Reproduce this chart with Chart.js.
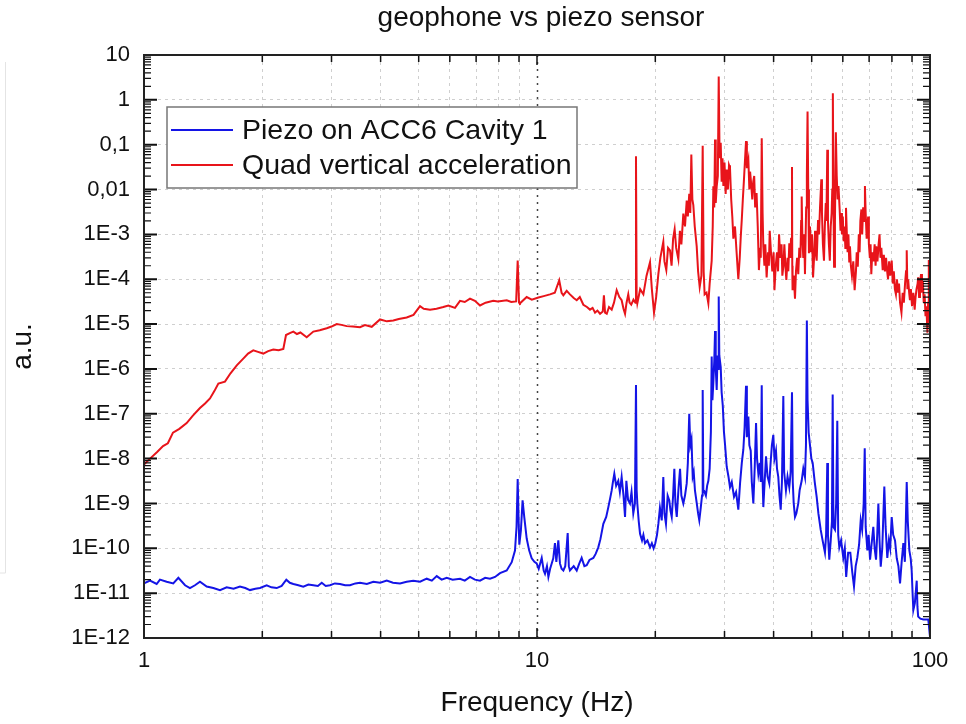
<!DOCTYPE html>
<html>
<head>
<meta charset="utf-8">
<title>geophone vs piezo sensor</title>
<script src="https://cdn.jsdelivr.net/npm/chart.js@4.4.1/dist/chart.umd.min.js"></script>
<style>
  html, body { margin: 0; padding: 0; background: #fff; }
  #chart { display: block; }
</style>
</head>
<body>
<canvas id="chart" width="966" height="724"></canvas>
<script>
/* --------------- data: [Hz, a.u.] --------------------------------------- */
const seriesNames = ["Piezo on ACC6 Cavity 1", "Quad vertical acceleration"];
const seriesColors = ["#1414e6", "#e8141a"];

// Piezo on ACC6 Cavity 1 (blue)
const blueData = [
  [1.0,1.65e-11],[1.036,1.9e-11],[1.077,1.6e-11],[1.098,2.0e-11],[1.142,1.8e-11],[1.187,1.65e-11],[1.223,2.2e-11],[1.272,1.5e-11],
  [1.309,1.3e-11],[1.348,1.5e-11],[1.388,1.8e-11],[1.444,1.4e-11],[1.501,1.3e-11],[1.561,1.17e-11],[1.623,1.35e-11],[1.69,1.25e-11],
  [1.755,1.4e-11],[1.81,1.3e-11],[1.861,1.17e-11],[1.92,1.25e-11],[1.973,1.3e-11],[2.052,1.5e-11],[2.11,1.35e-11],[2.176,1.3e-11],
  [2.24,1.45e-11],[2.302,2.0e-11],[2.35,1.7e-11],[2.399,1.6e-11],[2.47,1.5e-11],[2.543,1.4e-11],[2.62,1.55e-11],[2.697,1.5e-11],
  [2.77,1.45e-11],[2.833,1.7e-11],[2.9,1.45e-11],[2.974,1.5e-11],[3.06,1.65e-11],[3.153,1.6e-11],[3.25,1.5e-11],[3.344,1.5e-11],
  [3.45,1.65e-11],[3.545,1.7e-11],[3.69,1.6e-11],[3.833,1.8e-11],[3.99,1.7e-11],[4.146,1.9e-11],[4.3,1.7e-11],[4.481,1.65e-11],
  [4.66,1.8e-11],[4.844,1.9e-11],[5.04,1.8e-11],[5.241,2.1e-11],[5.4,1.9e-11],[5.557,2.4e-11],[5.72,2.0e-11],[5.892,2.2e-11],
  [6.1,2.0e-11],[6.37,2.1e-11],[6.55,1.9e-11],[6.753,2.3e-11],[6.95,2.0e-11],[7.161,1.9e-11],[7.38,2.2e-11],[7.593,2.1e-11],
  [7.82,2.3e-11],[8.052,2.8e-11],[8.374,3.2e-11],[8.623,4.9e-11],[8.79,8.9e-11],[8.87,3.0e-10],[8.93,3.5e-9],[8.98,4.0e-10],
  [9.016,1.2e-10],[9.1,2.5e-10],[9.19,1.17e-9],[9.28,5.0e-10],[9.414,1.65e-10],[9.55,9.0e-11],[9.694,6.0e-11],[9.85,5.0e-11],
  [9.98,4.6e-11],[10.1,3.5e-11],[10.28,6.1e-11],[10.4,3.2e-11],[10.48,2.7e-11],[10.6,4.0e-11],[10.69,2.3e-11],[10.8,3.5e-11],
  [10.9,4.6e-11],[11.0,6.0e-11],[11.11,1.3e-10],[11.2,5.0e-11],[11.33,1.5e-10],[11.44,4.6e-11],[11.55,3.5e-11],[11.67,3.2e-11],
  [11.8,4.0e-11],[11.97,2.2e-10],[12.05,4.0e-11],[12.13,3.2e-11],[12.4,4.0e-11],[12.62,3.2e-11],[12.8,4.5e-11],[12.99,6.1e-11],
  [13.2,4.0e-11],[13.38,4.2e-11],[13.6,5.5e-11],[13.91,6.1e-11],[14.1,7.5e-11],[14.32,1.05e-10],[14.5,1.6e-10],[14.75,3.5e-10],
  [15.0,5.0e-10],[15.19,8.3e-10],[15.35,1.3e-9],[15.49,1.95e-9],[15.6,3.0e-9],[15.73,4.6e-9],[15.9,2.5e-9],[16.1,3.2e-9],
  [16.25,1.8e-9],[16.42,3.9e-9],[16.6,1.5e-9],[16.75,5.0e-10],[16.88,3.2e-9],[17.05,1.2e-9],[17.24,1.0e-9],[17.4,1.8e-9],
  [17.58,6.0e-10],[17.75,1.0e-9],[17.86,4.4e-7],[17.93,2.0e-9],[18.0,1.0e-9],[18.15,4.0e-10],[18.29,2.1e-10],[18.5,1.5e-10],
  [18.65,2.0e-10],[18.83,1.3e-10],[19.1,1.5e-10],[19.39,1.05e-10],[19.6,1.3e-10],[19.8,1.0e-10],[20.0,1.3e-10],[20.2,2.0e-10],
  [20.36,3.5e-10],[20.55,8.0e-10],[20.77,4.2e-10],[20.96,3.9e-9],[21.1,6.0e-10],[21.29,3.5e-10],[21.5,1.5e-9],[21.71,1.17e-9],
  [21.85,7.0e-10],[22.02,5.0e-10],[22.2,1.5e-9],[22.36,5.9e-9],[22.5,1.0e-9],[22.68,5.0e-10],[22.9,2.0e-9],[23.12,5.9e-9],
  [23.3,1.5e-9],[23.57,1.0e-9],[23.8,1.5e-9],[24.04,2.8e-9],[24.2,8.0e-9],[24.4,1.0e-7],[24.55,2.0e-8],[24.72,2.7e-8],
  [24.9,4.0e-9],[25.05,5.0e-9],[25.23,1.95e-9],[25.5,1.0e-9],[25.7,6.0e-10],[25.88,4.2e-10],[26.1,8.0e-10],[26.3,1.5e-9],
  [26.4,3.4e-7],[26.5,2.0e-9],[26.6,1.95e-9],[26.9,1.5e-9],[27.1,2.5e-9],[27.29,3.2e-9],[27.5,6.0e-9],[27.7,4.0e-8],
  [27.83,1.9e-6],[27.95,2.0e-7],[28.1,5.0e-7],[28.25,1.5e-6],[28.38,7.0e-6],[28.5,1.0e-6],[28.66,3.4e-7],[28.8,2.0e-6],
  [28.9,1.0e-6],[29.0,4.1e-5],[29.1,2.0e-6],[29.34,1.1e-6],[29.5,3.0e-7],[29.7,1.5e-7],[29.9,4.0e-8],[30.1,2.0e-8],
  [30.39,6.6e-9],[30.7,4.0e-9],[30.98,2.3e-9],[31.3,3.0e-9],[31.72,1.4e-9],[32.1,1.8e-9],[32.53,7.3e-10],[32.86,2.8e-9],
  [33.2,8.0e-9],[33.5,1.6e-8],[33.75,5.0e-8],[34.03,4.2e-7],[34.2,3.0e-8],[34.5,8.7e-8],[34.7,2.0e-8],[34.98,1.5e-8],
  [35.2,3.0e-9],[35.52,1.0e-9],[35.8,6.0e-9],[36.09,6.2e-8],[36.3,1.0e-8],[36.58,4.6e-9],[36.9,8.0e-9],[37.1,3.0e-9],
  [37.31,4.3e-7],[37.45,5.0e-9],[37.66,8.3e-10],[37.95,3.0e-9],[38.26,1.13e-8],[38.6,4.0e-9],[39.0,2.8e-9],[39.3,8.0e-9],
  [39.6,2.0e-8],[39.93,3.4e-8],[40.2,1.0e-8],[40.56,1.5e-8],[40.8,6.0e-9],[41.11,3.9e-9],[41.4,1.5e-9],[41.7,7.3e-10],
  [42.0,3.0e-9],[42.34,2.5e-7],[42.55,5.0e-9],[43.0,1.95e-9],[43.4,4.0e-9],[43.85,2.3e-9],[44.2,5.0e-9],[44.55,3.0e-7],
  [44.75,3.0e-9],[45.0,1.0e-9],[45.34,5.0e-10],[45.7,6.0e-10],[46.22,1.0e-9],[46.6,2.0e-9],[47.15,3.2e-9],[47.6,6.0e-9],
  [48.07,3.9e-9],[48.35,2.0e-8],[48.6,1.2e-5],[48.8,2.0e-7],[49.12,3.8e-8],[49.5,2.0e-8],[49.9,1.0e-8],[50.29,8.0e-9],
  [50.9,3.0e-9],[51.48,1.4e-9],[52.0,6.0e-10],[52.7,2.6e-10],[53.3,1.5e-10],[54.04,8.0e-11],[54.4,2.0e-10],[54.78,8.0e-9],
  [55.0,2.0e-10],[55.43,5.6e-11],[55.9,1.5e-10],[56.3,4.0e-10],[56.54,2.7e-7],[56.8,3.0e-10],[57.31,2.6e-10],[57.7,1.0e-9],
  [58.09,7.0e-8],[58.4,2.0e-10],[58.78,1.05e-10],[59.4,1.5e-10],[60.17,6.1e-11],[60.7,1.0e-10],[61.2,2.3e-11],[61.9,8.0e-11],
  [62.7,8.0e-11],[63.4,3.0e-11],[64.06,1.4e-11],[64.7,4.0e-11],[65.31,6.1e-11],[66.0,1.2e-10],[66.63,4.2e-10],[67.2,2.6e-10],
  [67.8,1.0e-9],[68.22,1.7e-8],[68.6,3.0e-10],[69.28,9.0e-11],[69.8,2.0e-10],[70.38,5.6e-11],[71.0,1.2e-10],[71.74,3.0e-10],
  [72.3,1.0e-10],[72.89,5.6e-11],[73.4,2.0e-10],[73.89,1.0e-9],[74.4,1.5e-10],[74.93,3.9e-11],[75.6,1.0e-10],[76.52,2.4e-9],
  [77.1,3.0e-10],[77.87,6.1e-11],[78.6,1.5e-10],[79.2,1.0e-10],[79.9,5.0e-10],[80.6,2.0e-10],[81.47,1.5e-10],[82.3,6.0e-11],
  [83.1,4.0e-11],[83.9,1.65e-11],[84.7,5.0e-11],[85.54,1.3e-10],[86.3,5.0e-11],[86.8,4.0e-10],[87.25,3.0e-9],[87.8,4.0e-10],
  [88.6,9.0e-11],[89.3,6.0e-11],[89.82,3.2e-11],[90.3,1.0e-11],[90.7,4.2e-12],[91.5,6.0e-12],[92.51,1.9e-11],[92.9,5.0e-12],
  [93.3,3.0e-12],[94.5,2.7e-12],[96.16,2.6e-12],[99.0,2.6e-12],[100,1.07e-12]
];

// Quad vertical acceleration (red)
const redData = [
  [1.0,7.4e-9],[1.036,1.0e-8],[1.08,1.4e-8],[1.118,1.9e-8],[1.15,2.2e-8],[1.185,3.8e-8],[1.23,4.6e-8],[1.284,6.2e-8],
  [1.33,9.0e-8],[1.388,1.34e-7],[1.43,1.7e-7],[1.472,2.2e-7],[1.51,3.2e-7],[1.546,4.7e-7],[1.607,5.2e-7],[1.66,8.0e-7],
  [1.722,1.2e-6],[1.789,1.7e-6],[1.84,2.2e-6],[1.897,2.6e-6],[1.95,2.4e-6],[2.012,2.2e-6],[2.07,2.5e-6],[2.133,2.7e-6],
  [2.2,2.6e-6],[2.262,2.8e-6],[2.298,5.7e-6],[2.35,6.3e-6],[2.399,6.8e-6],[2.45,6.0e-6],[2.5,6.5e-6],[2.594,5.1e-6],
  [2.697,6.8e-6],[2.8,7.3e-6],[2.917,8.1e-6],[3.0,8.8e-6],[3.093,1.0e-5],[3.18,9.6e-6],[3.28,9.0e-6],[3.4,8.8e-6],
  [3.545,8.5e-6],[3.65,9.5e-6],[3.797,8.7e-6],[3.986,1.27e-5],[4.15,1.15e-5],[4.309,1.2e-5],[4.45,1.3e-5],[4.66,1.4e-5],
  [4.85,1.6e-5],[5.039,2.5e-5],[5.15,2.2e-5],[5.343,2.1e-5],[5.55,2.2e-5],[5.776,2.4e-5],[5.95,2.6e-5],[6.185,2.3e-5],
  [6.37,3.3e-5],[6.55,3.1e-5],[6.753,3.7e-5],[6.95,3.3e-5],[7.161,2.6e-5],[7.4,3.0e-5],[7.741,3.3e-5],[7.95,3.2e-5],
  [8.374,3.4e-5],[8.6,3.1e-5],[8.85,3.2e-5],[8.93,2.6e-4],[9.0,3.0e-5],[9.05,2.9e-5],[9.414,4.0e-5],[9.7,3.5e-5],
  [10.08,3.9e-5],[10.4,4.2e-5],[10.79,4.6e-5],[11.1,5.0e-5],[11.39,9.5e-5],[11.55,5.0e-5],[11.67,4.4e-5],[11.9,5.5e-5],
  [12.13,4.6e-5],[12.4,3.8e-5],[12.62,3.4e-5],[12.85,4.0e-5],[13.12,2.7e-5],[13.4,2.4e-5],[13.64,2.1e-5],[13.85,2.3e-5],
  [14.05,1.8e-5],[14.25,2.0e-5],[14.47,1.7e-5],[14.7,1.9e-5],[14.8,4.4e-5],[14.9,1.8e-5],[15.05,1.7e-5],[15.25,2.4e-5],
  [15.49,2.1e-5],[15.7,3.0e-5],[15.95,5.7e-5],[16.2,4.0e-5],[16.42,3.4e-5],[16.6,2.2e-5],[16.75,1.7e-5],[16.9,3.0e-5],
  [17.07,4.6e-5],[17.2,3.0e-5],[17.37,2.7e-5],[17.6,3.5e-5],[17.8,3.0e-5],[17.86,0.055],[17.93,4.0e-5],[18.0,2.9e-5],
  [18.3,6.0e-5],[18.65,4.6e-5],[19.0,1.2e-4],[19.39,2.4e-4],[19.6,6.0e-5],[19.85,1.8e-5],[20.1,4.0e-5],[20.36,1.3e-4],
  [20.6,3.0e-4],[20.96,6.8e-4],[21.1,2.5e-4],[21.33,1.6e-4],[21.55,5.0e-4],[21.8,4.4e-4],[22.0,2.0e-4],[22.2,8.0e-4],
  [22.4,1.3e-3],[22.6,5.0e-4],[22.89,2.8e-4],[23.1,1.2e-3],[23.3,6.0e-4],[23.57,2.9e-3],[23.8,1.5e-3],[24.04,5.7e-3],
  [24.2,2.5e-3],[24.4,8.0e-3],[24.55,3.0e-3],[24.7,0.06],[24.85,6.0e-3],[24.99,4.5e-3],[25.2,1.5e-3],[25.49,5.4e-4],
  [25.7,1.5e-4],[25.94,6.7e-5],[26.2,1.2e-4],[26.4,0.095],[26.55,1.5e-4],[26.7,4.6e-5],[27.0,5.0e-5],[27.29,2.9e-5],
  [27.5,8.0e-5],[27.83,2.6e-4],[28.0,1.5e-3],[28.1,0.0118],[28.25,4.0e-3],[28.38,0.13],[28.5,5.0e-3],[28.66,0.0118],
  [28.85,0.02],[29.0,3.3],[29.15,0.05],[29.34,0.11],[29.5,0.015],[29.65,0.05],[29.8,0.012],[30.0,0.04],
  [30.2,0.008],[30.39,0.028],[30.6,0.01],[30.8,0.035],[30.98,0.03],[31.2,6.0e-3],[31.4,2.5e-3],[31.6,8.0e-4],
  [31.9,1.5e-3],[32.2,4.0e-4],[32.53,1.0e-4],[32.8,3.0e-4],[33.0,9.0e-4],[33.19,2.1e-3],[33.4,6.0e-3],[33.6,0.015],
  [33.8,0.04],[34.03,0.12],[34.2,0.03],[34.5,0.046],[34.7,0.01],[34.85,0.025],[35.06,0.014],[35.3,0.006],
  [35.5,0.015],[35.7,0.02],[35.9,4.0e-3],[36.2,8.4e-3],[36.45,1.5e-3],[36.7,1.6e-4],[36.95,5.0e-4],[37.1,3.0e-4],
  [37.31,0.14],[37.5,3.0e-3],[37.66,5.4e-4],[37.9,2.0e-4],[38.1,6.0e-4],[38.4,1.1e-4],[38.7,4.0e-4],[38.9,2.0e-4],
  [39.1,1.2e-3],[39.4,3.8e-4],[39.7,1.5e-4],[40.0,4.0e-4],[40.2,5.7e-5],[40.5,2.0e-4],[40.8,4.0e-4],[41.05,1.5e-4],
  [41.3,1.0e-3],[41.6,3.0e-4],[41.9,6.0e-4],[42.1,1.2e-4],[42.34,1.9e-4],[42.6,6.0e-4],[42.85,2.0e-4],[43.1,9.7e-5],
  [43.4,3.0e-4],[43.6,1.5e-4],[43.85,6.3e-4],[44.1,3.0e-4],[44.3,8.0e-4],[44.55,0.032],[44.62,2.0e-4],[44.7,5.7e-5],
  [45.0,1.2e-4],[45.34,3.7e-5],[45.6,1.5e-4],[45.9,3.0e-4],[46.22,1.3e-4],[46.5,5.0e-4],[46.8,3.0e-4],[47.0,2.0e-3],
  [47.15,7.0e-3],[47.35,8.0e-4],[47.6,3.0e-4],[47.85,1.0e-3],[48.07,1.3e-4],[48.4,4.0e-3],[48.6,0.02],[48.8,0.55],
  [49.0,0.01],[49.2,3.8e-4],[49.5,1.5e-3],[49.8,4.0e-4],[50.1,1.0e-3],[50.4,1.1e-4],[50.7,3.0e-4],[51.0,1.2e-3],
  [51.2,4.0e-4],[51.48,2.6e-4],[51.7,8.0e-4],[51.9,2.1e-3],[52.2,1.0e-3],[52.5,4.0e-3],[52.9,0.017],[53.1,3.0e-3],
  [53.4,6.0e-4],[53.73,2.6e-4],[54.0,1.5e-3],[54.3,5.0e-3],[54.5,2.0e-3],[54.78,0.077],[55.0,2.0e-3],[55.3,6.0e-4],
  [55.6,2.6e-4],[55.9,1.5e-3],[56.2,3.0e-3],[56.4,0.01],[56.6,1.4],[56.8,6.0e-3],[57.0,1.9e-4],[57.3,2.0e-3],
  [57.6,0.19],[57.9,0.02],[58.2,0.006],[58.5,0.012],[58.9,3.6e-3],[59.2,1.2e-3],[59.4,3.0e-3],[59.7,1.0e-3],
  [60.0,2.5e-3],[60.3,7.0e-4],[60.6,1.5e-3],[60.9,5.0e-4],[61.13,3.9e-3],[61.4,1.2e-3],[61.7,4.0e-4],[62.0,1.0e-3],
  [62.3,2.5e-4],[62.57,5.4e-4],[62.9,2.0e-4],[63.3,1.2e-4],[63.8,2.5e-4],[64.3,5.7e-5],[64.8,1.5e-4],[65.1,4.0e-4],
  [65.5,1.9e-4],[65.9,1.0e-3],[66.2,4.0e-4],[66.5,2.0e-3],[66.9,3.6e-3],[67.2,1.0e-3],[67.6,4.0e-3],[68.0,2.0e-3],
  [68.3,0.012],[68.6,3.0e-3],[69.0,8.0e-4],[69.3,1.5e-3],[69.6,2.5e-3],[69.9,6.0e-4],[70.3,3.0e-4],[70.6,6.0e-4],
  [70.9,1.3e-4],[71.3,4.0e-4],[71.8,2.5e-4],[72.3,6.0e-4],[72.7,2.0e-4],[73.0,5.4e-4],[73.5,2.5e-4],[74.0,6.0e-4],
  [74.4,1.0e-3],[74.8,3.0e-4],[75.2,5.0e-4],[75.8,1.6e-4],[76.3,3.5e-4],[76.8,1.5e-4],[77.3,3.0e-4],[77.8,1.5e-4],
  [78.2,1.0e-4],[78.7,2.5e-4],[79.2,1.2e-4],[79.9,2.6e-4],[80.4,8.0e-5],[80.9,1.5e-4],[81.4,6.0e-5],[81.9,4.6e-5],
  [82.4,1.0e-4],[82.9,5.0e-5],[83.4,8.0e-5],[83.9,3.0e-5],[84.6,1.8e-5],[85.2,5.0e-5],[85.8,3.0e-5],[86.4,8.0e-5],
  [86.9,1.5e-4],[87.25,4.4e-4],[87.6,6.0e-5],[88.0,1.0e-4],[88.5,5.0e-5],[88.9,3.4e-5],[89.4,6.0e-5],[90.0,2.5e-5],
  [90.7,5.0e-5],[91.4,2.1e-5],[91.9,4.0e-5],[92.4,6.0e-5],[93.0,8.0e-5],[93.3,1.1e-4],[93.8,4.0e-5],[94.3,8.0e-5],
  [94.9,1.3e-4],[95.4,5.0e-5],[95.9,9.0e-5],[96.4,3.0e-5],[96.9,4.6e-5],[97.4,1.5e-5],[97.9,2.5e-5],[98.5,6.4e-6],
  [98.9,3.0e-5],[99.3,2.7e-4],[99.6,2.0e-5],[100,7.4e-6]
];

/* --------------- axes --------------------- */
const xTickValues = [1,2,3,4,5,6,7,8,9,10,20,30,40,50,60,70,80,90,100];
const xTickLabels = ["1","","","","","","","","","10","","","","","","","","","100"];
const yTickValues = [1e-12,1e-11,1e-10,1e-9,1e-8,1e-7,1e-6,1e-5,1e-4,1e-3,1e-2,1e-1,1,10];
const yTickLabels = ["1E-12","1E-11","1E-10","1E-9","1E-8","1E-7","1E-6","1E-5","1E-4","1E-3","0,01","0,1","1","10"];

const titleText = "geophone vs piezo sensor";
const xTitle = "Frequency (Hz)";
const yTitle = "a.u.";

const FONT = "'Liberation Sans', Arial, Helvetica, sans-serif";

function toPoints(pairs){
  return pairs.map(p => ({x: p[0], y: p[1]}));
}

// frame, inward ticks, 10 Hz marker, legend box and title
const framePlugin = {
  id: "frame",
  beforeDraw(chart){
    const ctx = chart.ctx;
    ctx.save();
    ctx.fillStyle = "#fff";
    ctx.fillRect(0, 0, chart.width, chart.height);
    // faint edge line of the original screenshot
    ctx.strokeStyle = "#e4e4e4";
    ctx.lineWidth = 1;
    ctx.beginPath();
    ctx.moveTo(5.5, 62); ctx.lineTo(5.5, 573); ctx.lineTo(0, 573);
    ctx.stroke();
    ctx.restore();
  },
  beforeDatasetsDraw(chart){
    const {ctx, chartArea: {top, bottom}, scales: {x}} = chart;
    const px = Math.round(x.getPixelForValue(10)) + 0.5;
    ctx.save();
    ctx.strokeStyle = "#444";
    ctx.lineWidth = 1.5;
    ctx.setLineDash([2, 5]);
    ctx.beginPath();
    ctx.moveTo(px, top); ctx.lineTo(px, bottom);
    ctx.stroke();
    ctx.restore();
  },
  afterDatasetsDraw(chart){
    const {ctx, chartArea: {left, right, top, bottom}, scales: {x, y}} = chart;
    ctx.save();
    ctx.strokeStyle = "#111";
    ctx.lineWidth = 1.5;
    // inward ticks on the x axis (bottom and top)
    xTickValues.forEach(v => {
      const px = x.getPixelForValue(v);
      const len = (v == 1 || v == 10 || v == 100) ? 10 : 7;
      ctx.beginPath();
      ctx.moveTo(px, bottom); ctx.lineTo(px, bottom - len);
      ctx.moveTo(px, top); ctx.lineTo(px, top + len);
      ctx.stroke();
    });
    // inward ticks on the y axis (left and right), minor ticks 2..9 per decade
    yTickValues.forEach((v, i) => {
      const py = y.getPixelForValue(v);
      ctx.lineWidth = 2;
      ctx.beginPath();
      ctx.moveTo(left, py); ctx.lineTo(left + 13, py);
      ctx.moveTo(right, py); ctx.lineTo(right - 13, py);
      ctx.stroke();
      if (i < yTickValues.length - 1) {
        ctx.lineWidth = 1.2;
        for (let m = 2; m <= 9; m++) {
          const pm = y.getPixelForValue(v * m);
          ctx.beginPath();
          ctx.moveTo(left, pm); ctx.lineTo(left + 7, pm);
          ctx.moveTo(right, pm); ctx.lineTo(right - 7, pm);
          ctx.stroke();
        }
      }
    });
    // frame
    ctx.lineWidth = 2;
    ctx.strokeStyle = "#222";
    ctx.strokeRect(left, top, right - left, bottom - top);

    // legend box inside the plot
    const bx = 167, by = 107, bw = 410, bh = 81;
    ctx.fillStyle = "#fff";
    ctx.fillRect(bx, by, bw, bh);
    ctx.strokeStyle = "#777";
    ctx.lineWidth = 1.5;
    ctx.strokeRect(bx, by, bw, bh);
    ctx.font = "28.5px " + FONT;
    ctx.textBaseline = "middle";
    ctx.textAlign = "left";
    chart.data.datasets.forEach((ds, i) => {
      const ly = 130 + i * 35;
      ctx.strokeStyle = ds.borderColor;
      ctx.lineWidth = 2;
      ctx.beginPath();
      ctx.moveTo(171, ly); ctx.lineTo(233, ly);
      ctx.stroke();
      ctx.fillStyle = "#111";
      ctx.fillText(ds.label, 242, ly + 1);
    });
    ctx.restore();
  },
  afterDraw(chart){
    const ctx = chart.ctx;
    ctx.save();
    ctx.font = "28px " + FONT;
    ctx.fillStyle = "#111";
    ctx.textAlign = "center";
    ctx.textBaseline = "middle";
    ctx.fillText(titleText, 541, 18);
    ctx.restore();
  }
};

new Chart(document.getElementById("chart"), {
  type: "line",
  data: {
    datasets: [
      {
        label: seriesNames[0],
        data: toPoints(blueData),
        borderColor: seriesColors[0],
        borderWidth: 2,
        pointRadius: 0,
        tension: 0
      },
      {
        label: seriesNames[1],
        data: toPoints(redData),
        borderColor: seriesColors[1],
        borderWidth: 2,
        pointRadius: 0,
        tension: 0
      }
    ]
  },
  options: {
    responsive: false,
    animation: false,
    layout: { padding: { top: 55, right: 36, bottom: 0, left: 0 } },
    plugins: {
      legend: { display: false },
      tooltip: { enabled: false },
      title: { display: false }
    },
    scales: {
      x: {
        type: "logarithmic",
        min: 1,
        max: 100,
        afterBuildTicks: (scale) => {
          scale.ticks = xTickValues.map(v => ({value: v}));
        },
        afterFit: (scale) => { scale.height = 86; },
        ticks: {
          autoSkip: false,
          maxRotation: 0,
          padding: 10,
          color: "#111",
          font: { family: FONT, size: 22 },
          callback: (value, index) => xTickLabels[index]
        },
        grid: {
          drawTicks: false,
          lineWidth: 1,
          color: (ctx) => {
            const v = ctx.tick && ctx.tick.value;
            return (v == 1 || v == 10 || v == 100) ? "rgba(0,0,0,0)" : "#cfcfcf";
          }
        },
        border: { display: false, dash: [3, 4] },
        title: {
          display: true,
          text: xTitle,
          color: "#111",
          font: { family: FONT, size: 28 },
          padding: { top: 0, bottom: 4 }
        }
      },
      y: {
        type: "logarithmic",
        min: 1e-12,
        max: 10,
        afterBuildTicks: (scale) => {
          scale.ticks = yTickValues.map(v => ({value: v}));
        },
        afterFit: (scale) => { scale.width = 144; },
        ticks: {
          autoSkip: false,
          padding: 14,
          color: "#111",
          font: { family: FONT, size: 22 },
          callback: (value, index) => yTickLabels[index]
        },
        grid: {
          drawTicks: false,
          lineWidth: 1,
          color: (ctx) => {
            const i = ctx.index;
            return (i === 0 || i === yTickValues.length - 1) ? "rgba(0,0,0,0)" : "#cfcfcf";
          }
        },
        border: { display: false, dash: [3, 4] },
        title: {
          display: true,
          text: yTitle,
          color: "#111",
          font: { family: FONT, size: 28 },
          padding: { top: 6, bottom: 0 }
        }
      }
    }
  },
  plugins: [framePlugin]
});
</script>
</body>
</html>
